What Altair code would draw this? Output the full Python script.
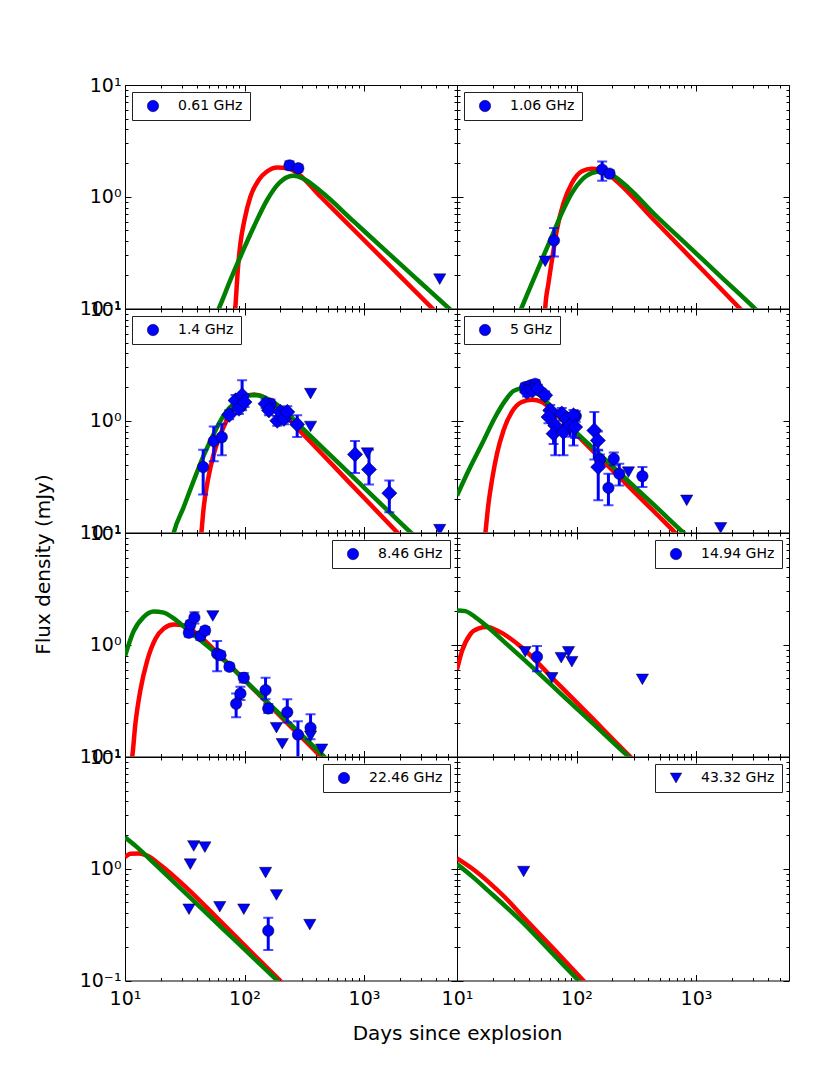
import altair as alt
import pandas as pd

# ---------------- axes / ticks ----------------
X_DOMAIN = [10, 6000]
Y_DOMAIN = [0.1, 10]
X_MAJOR = [10, 100, 1000]
X_MINOR = [20, 30, 40, 50, 60, 70, 80, 90, 200, 300, 400, 500, 600, 700, 800, 900,
           2000, 3000, 4000, 5000]
Y_MAJOR = [0.1, 1, 10]
Y_MINOR = [0.2, 0.3, 0.4, 0.5, 0.6, 0.7, 0.8, 0.9, 2, 3, 4, 5, 6, 7, 8, 9]

LABELS = ["0.61 GHz", "1.06 GHz", "1.4 GHz", "5 GHz",
          "8.46 GHz", "14.94 GHz", "22.46 GHz", "43.32 GHz"]

# ---------------- 0.61 GHz ----------------
C061_T = [238, 282]
C061_F = [1.91, 1.80]
C061_LO = [1.75, 1.68]
C061_HI = [2.08, 1.93]
U061_T = [4300]
U061_F = [0.183]
R061_T = [82, 85.7, 87.9, 92.5, 100, 112, 132, 155, 188, 228, 276, 434, 824, 1570, 3740, 4500]
R061_F = [0.07, 0.147, 0.222, 0.385, 0.622, 1.0, 1.42, 1.69, 1.83, 1.81, 1.63, 1.0, 0.504, 0.253, 0.1, 0.082]
G061_T = [57, 61, 76.4, 92.5, 120, 155, 194, 228, 259, 304, 434, 824, 1570, 2985, 5150, 6000]
G061_F = [0.085, 0.1, 0.181, 0.292, 0.542, 0.94, 1.32, 1.50, 1.54, 1.47, 1.12, 0.598, 0.318, 0.170, 0.1, 0.086]

# ---------------- 1.06 GHz ----------------
C106_T = [64.8, 164, 189]
C106_F = [0.406, 1.75, 1.61]
C106_LO = [0.292, 1.39, 1.50]
C106_HI = [0.524, 2.07, 1.73]
U106_T = [54.7]
U106_F = [0.264]
R106_T = [54, 54.7, 58.3, 63, 68.5, 77.8, 91.4, 111, 134, 163, 210, 454, 863, 2333, 2800]
R106_F = [0.074, 0.1, 0.169, 0.292, 0.506, 0.877, 1.32, 1.69, 1.78, 1.75, 1.42, 0.607, 0.299, 0.1, 0.082]
G106_T = [32.7, 34.5, 42.4, 51.3, 62.2, 75.3, 91.4, 111, 134, 163, 197, 272, 454, 863, 1637, 3112, 3600]
G106_F = [0.088, 0.1, 0.169, 0.273, 0.442, 0.714, 1.08, 1.42, 1.63, 1.69, 1.57, 1.20, 0.69, 0.362, 0.190, 0.1, 0.086]

# ---------------- 1.4 GHz ----------------
C14_T = [45.1, 55.3, 64.6, 165]
C14_F = [0.385, 0.658, 0.714, 1.42]
C14_LO = [0.219, 0.435, 0.49, 1.30]
C14_HI = [0.55, 0.889, 0.94, 1.55]
D14_T = [74.5, 84.1, 89.8, 95.5, 100, 150, 160, 188, 200, 214, 228, 276, 841, 1101, 1629]
D14_F = [1.13, 1.52, 1.28, 1.69, 1.47, 1.42, 1.24, 1.0, 1.20, 1.04, 1.20, 0.927, 0.50, 0.366, 0.225]
D14_LO = [1.03, 1.35, 1.15, 1.24, 1.33, 1.30, 1.12, 0.90, 1.08, 0.93, 0.98, 0.714, 0.34, 0.269, 0.152]
D14_HI = [1.24, 1.70, 1.42, 2.30, 1.62, 1.55, 1.37, 1.10, 1.32, 1.15, 1.35, 1.12, 0.658, 0.55, 0.292]
U14_T = [357, 357, 1067, 4300]
U14_F = [1.75, 0.889, 0.513, 0.106]
R14_T = [43, 43.6, 45.6, 49.3, 55.3, 65, 78.9, 98.6, 120, 145, 188, 314, 598, 1138, 1900, 2300]
R14_F = [0.085, 0.1, 0.169, 0.292, 0.506, 0.819, 1.24, 1.63, 1.72, 1.63, 1.32, 0.745, 0.363, 0.177, 0.1, 0.081]
G14_T = [24.8, 25.6, 31, 37.6, 45.6, 55.3, 67.1, 84.1, 105, 128, 155, 200, 314, 598, 1138, 2460, 3000]
G14_F = [0.087, 0.1, 0.169, 0.292, 0.49, 0.766, 1.12, 1.47, 1.69, 1.69, 1.57, 1.32, 0.832, 0.428, 0.221, 0.1, 0.082]

# ---------------- 5 GHz ----------------
C5_T = [37.2, 41, 45.2, 98.6, 157, 185, 205, 228, 356]
C5_F = [2.0, 2.07, 2.14, 1.10, 0.448, 0.251, 0.457, 0.335, 0.319]
C5_LO = [1.85, 1.92, 1.95, 0.98, 0.40, 0.175, 0.40, 0.264, 0.255]
C5_HI = [2.15, 2.22, 2.32, 1.22, 0.50, 0.335, 0.52, 0.412, 0.385]
D5_T = [38.5, 42.9, 47.5, 54.7, 60.3, 58.3, 66.4, 64.3, 75.3, 77.8, 83, 88.5, 94.4, 97.5, 141, 151, 152]
D5_F = [1.81, 1.87, 1.94, 1.69, 1.24, 1.08, 0.908, 0.766, 1.16, 0.792, 1.04, 0.908, 1.12, 0.877, 0.819, 0.667, 0.385]
D5_LO = [1.65, 1.72, 1.78, 1.55, 1.10, 0.95, 0.49, 0.62, 1.0, 0.49, 0.90, 0.72, 0.60, 0.70, 0.45, 0.55, 0.194]
D5_HI = [1.97, 2.03, 2.10, 1.83, 1.38, 1.22, 1.24, 0.90, 1.30, 1.05, 1.18, 1.10, 1.25, 1.05, 1.20, 0.80, 0.542]
U5_T = [272, 836, 1607]
U5_F = [0.347, 0.194, 0.110]
R5_T = [17, 17.3, 18.2, 19.6, 21.6, 24.5, 28.8, 34.9, 42.4, 51.3, 66.4, 126, 239, 454, 668, 800]
R5_F = [0.085, 0.1, 0.169, 0.292, 0.506, 0.819, 1.20, 1.47, 1.54, 1.47, 1.16, 0.587, 0.298, 0.151, 0.1, 0.083]
G5_T = [10, 12.5, 16.2, 20.9, 25.4, 29.8, 34.9, 41, 51.3, 66.4, 126, 239, 454, 783, 950]
G5_F = [0.214, 0.359, 0.622, 1.08, 1.52, 1.85, 1.94, 1.90, 1.63, 1.20, 0.62, 0.327, 0.173, 0.1, 0.083]

# ---------------- 8.46 GHz ----------------
C846_T = [34.2, 35.2, 38.1, 42.8, 46.8, 59.0, 63, 74.8, 98.6, 92.5, 85.1, 150, 158, 228, 280, 357]
C846_F = [1.28, 1.52, 1.75, 1.20, 1.34, 0.830, 0.807, 0.635, 0.506, 0.366, 0.296, 0.393, 0.269, 0.249, 0.157, 0.181]
C846_LO = [1.18, 1.40, 1.55, 1.10, 1.24, 0.58, 0.74, 0.59, 0.46, 0.32, 0.225, 0.326, 0.245, 0.201, 0.095, 0.143]
C846_HI = [1.38, 1.64, 1.95, 1.30, 1.44, 1.08, 0.87, 0.68, 0.56, 0.42, 0.366, 0.506, 0.295, 0.326, 0.207, 0.239]
U846_T = [54.3, 185, 207, 357, 442]
U846_F = [1.81, 0.181, 0.130, 0.152, 0.116]
R846_T = [11.2, 11.5, 12.2, 13.4, 15.3, 17.9, 21.1, 25.6, 31, 37.6, 63, 120, 228, 434, 520]
R846_F = [0.085, 0.1, 0.194, 0.385, 0.714, 1.12, 1.40, 1.52, 1.49, 1.32, 0.792, 0.397, 0.199, 0.1, 0.082]
G846_T = [10, 11.8, 14.3, 17.4, 21.1, 25.6, 33.1, 63, 120, 228, 462, 560]
G846_F = [0.792, 1.32, 1.77, 1.98, 1.94, 1.72, 1.37, 0.776, 0.40, 0.207, 0.1, 0.082]

# ---------------- 14.94 GHz ----------------
C1494_T = [46.7]
C1494_F = [0.782]
C1494_LO = [0.58]
C1494_HI = [0.973]
U1494_T = [37.2, 62.2, 74.5, 85.7, 91.4, 356]
U1494_F = [0.865, 0.506, 0.766, 0.865, 0.705, 0.49]
R1494_T = [10, 11, 12.9, 15.2, 17.8, 22.3, 34.9, 66.4, 126, 281, 340]
R1494_F = [0.60, 0.877, 1.24, 1.40, 1.44, 1.32, 0.946, 0.474, 0.238, 0.1, 0.082]
G1494_T = [10, 11.7, 14.2, 18.4, 25.4, 34.9, 66.4, 126, 272, 330]
G1494_F = [2.03, 2.0, 1.77, 1.42, 1.04, 0.766, 0.405, 0.215, 0.1, 0.083]

# ---------------- 22.46 GHz ----------------
C2246_T = [158]
C2246_F = [0.279]
C2246_LO = [0.187]
C2246_HI = [0.364]
U2246_T = [37.6, 46.6, 35.2, 34.3, 62.1, 98.6, 150, 185, 352]
U2246_F = [1.60, 1.56, 1.10, 0.434, 0.457, 0.434, 0.924, 0.583, 0.316]
R2246_T = [10, 11.1, 13, 15.3, 19.8, 33.1, 63, 120, 198, 240]
R2246_F = [1.27, 1.36, 1.37, 1.31, 1.08, 0.668, 0.338, 0.170, 0.1, 0.082]
G2246_T = [10, 12.6, 17.4, 33.1, 63, 120, 188, 225]
G2246_F = [1.91, 1.56, 1.13, 0.587, 0.304, 0.158, 0.1, 0.083]

# ---------------- 43.32 GHz ----------------
U4332_T = [36.1]
U4332_F = [0.944]
R4332_T = [10, 13.3, 18.4, 25.4, 34.9, 66.4, 114, 140]
R4332_F = [1.24, 1.01, 0.760, 0.55, 0.382, 0.185, 0.1, 0.079]
G4332_T = [10, 13.3, 18.4, 34.9, 66.4, 104, 125]
G4332_F = [1.10, 0.859, 0.631, 0.336, 0.164, 0.1, 0.082]

# ---------------- styling ----------------
W, H = 332, 223.5
BLUE = "#0000ff"
RED = "#ff0000"
GREEN = "#008000"
FONT = "DejaVu Sans"
MAJ, MIN = 6, 3

LOGV = "round(log(datum.value)/LN10)"
LABEL_EXPR = (f"{LOGV}==-1?'10\u207b\u00b9':{LOGV}==0?'10\u2070':{LOGV}==1?'10\u00b9':"
              f"{LOGV}==2?'10\u00b2':'10\u00b3'")


def xs():
    return alt.Scale(type="log", domain=X_DOMAIN, nice=False)


def ys():
    return alt.Scale(type="log", domain=Y_DOMAIN, nice=False)


def ax(orient, values, size, labels, pad, **kw):
    args = dict(orient=orient, values=values, tickSize=size, offset=-size, domain=False,
                grid=False, labels=labels, labelOverlap=False, labelFlush=False,
                labelFont=FONT, labelFontSize=19, labelColor="black", labelPadding=pad,
                tickColor="black", tickWidth=1, titleFont=FONT, titleFontSize=20,
                titleFontWeight="normal", titleColor="black")
    if labels:
        args["labelExpr"] = LABEL_EXPR
    args.update(kw)
    if "title" not in args:
        args["title"] = None
    return alt.Axis(**args)


def panel(label, lg_orient, lg_symbol, circ, diam, tri, red, grn,
          xlabels=False, ylabels=False, xtitle=None, ytitle=None):
    red_df = pd.DataFrame({"t": red[0], "f": red[1]})
    grn_df = pd.DataFrame({"t": grn[0], "f": grn[1]})

    xkw = {}
    if xtitle:
        xkw = dict(title=xtitle, titleX=W, titleY=65, titleAlign="center",
                   titleBaseline="alphabetic", titleAnchor="start")
    ykw = {}
    if ytitle:
        ykw = dict(title=ytitle, titleX=-88, titleY=31, titleAlign="center",
                   titleBaseline="middle", titleAngle=270, titleAnchor="start")

    layers = []
    layers.append(alt.Chart(red_df).mark_line(color=RED, strokeWidth=4.5, clip=True,
                                              interpolate="monotone").encode(
        x=alt.X("t:Q", scale=xs(), axis=ax("bottom", X_MAJOR, MAJ, xlabels, 9, **xkw)),
        y=alt.Y("f:Q", scale=ys(), axis=ax("left", Y_MAJOR, MAJ, ylabels, 4, **ykw))))
    layers.append(alt.Chart(grn_df).mark_line(color=GREEN, strokeWidth=4.5, clip=True,
                                              interpolate="monotone").encode(
        x=alt.X("t:Q", scale=xs(), axis=ax("top", X_MAJOR, MAJ, False, 4)),
        y=alt.Y("f:Q", scale=ys(), axis=ax("right", Y_MAJOR, MAJ, False, 4))))
    layers.append(alt.Chart(red_df).mark_line(strokeOpacity=0, clip=True).encode(
        x=alt.X("t:Q", scale=xs(), axis=ax("bottom", X_MINOR, MIN, False, 4)),
        y=alt.Y("f:Q", scale=ys(), axis=ax("left", Y_MINOR, MIN, False, 4))))
    layers.append(alt.Chart(grn_df).mark_line(strokeOpacity=0, clip=True).encode(
        x=alt.X("t:Q", scale=xs(), axis=ax("top", X_MINOR, MIN, False, 4)),
        y=alt.Y("f:Q", scale=ys(), axis=ax("right", Y_MINOR, MIN, False, 4))))

    # error bars for detections
    err_t, err_lo, err_hi = [], [], []
    for grp in (circ, diam):
        if grp:
            err_t += list(grp[0])
            err_lo += list(grp[2])
            err_hi += list(grp[3])
    if err_t:
        err_df = pd.DataFrame({"t": err_t, "lo": err_lo, "hi": err_hi})
        cap_df = pd.DataFrame({"t": err_t + err_t, "v": err_lo + err_hi})
        layers.append(alt.Chart(err_df).mark_rule(color=BLUE, strokeWidth=3, clip=True).encode(
            x=alt.X("t:Q", scale=xs(), axis=None),
            y=alt.Y("lo:Q", scale=ys(), axis=None),
            y2=alt.Y2("hi:Q")))
        layers.append(alt.Chart(cap_df).mark_tick(color=BLUE, orient="horizontal", size=10,
                                                  thickness=2, clip=True).encode(
            x=alt.X("t:Q", scale=xs(), axis=None),
            y=alt.Y("v:Q", scale=ys(), axis=None)))

    leg = alt.Legend(title=None, orient=lg_orient, offset=7, padding=7, strokeColor="#222222",
                     fillColor="white", cornerRadius=0, symbolType=lg_symbol, symbolSize=130,
                     symbolFillColor=BLUE, symbolStrokeColor="black", symbolStrokeWidth=0.5,
                     symbolOffset=7, labelOffset=18, labelFont=FONT, labelFontSize=14,
                     labelColor="black")
    cscale = alt.Scale(domain=[label], range=[BLUE])

    for grp, shape, size in ((circ, "circle", 130), (diam, "diamond", 230),
                             (tri, "triangle-down", 150)):
        if not grp:
            continue
        df = pd.DataFrame({"t": grp[0], "f": grp[1], "band": label})
        layers.append(alt.Chart(df).mark_point(shape=shape, filled=True, size=size, opacity=1,
                                               stroke="black", strokeWidth=0.5, clip=True).encode(
            x=alt.X("t:Q", scale=xs(), axis=None),
            y=alt.Y("f:Q", scale=ys(), axis=None),
            color=alt.Color("band:N", scale=cscale, legend=leg)))

    return alt.layer(*layers).resolve_axis(x="independent", y="independent").properties(
        width=W, height=H)


p1 = panel(LABELS[0], "top-left", "circle",
           (C061_T, C061_F, C061_LO, C061_HI), None, (U061_T, U061_F),
           (R061_T, R061_F), (G061_T, G061_F), ylabels=True)
p2 = panel(LABELS[1], "top-left", "circle",
           (C106_T, C106_F, C106_LO, C106_HI), None, (U106_T, U106_F),
           (R106_T, R106_F), (G106_T, G106_F))
p3 = panel(LABELS[2], "top-left", "circle",
           (C14_T, C14_F, C14_LO, C14_HI), (D14_T, D14_F, D14_LO, D14_HI), (U14_T, U14_F),
           (R14_T, R14_F), (G14_T, G14_F), ylabels=True)
p4 = panel(LABELS[3], "top-left", "circle",
           (C5_T, C5_F, C5_LO, C5_HI), (D5_T, D5_F, D5_LO, D5_HI), (U5_T, U5_F),
           (R5_T, R5_F), (G5_T, G5_F))
p5 = panel(LABELS[4], "top-right", "circle",
           (C846_T, C846_F, C846_LO, C846_HI), None, (U846_T, U846_F),
           (R846_T, R846_F), (G846_T, G846_F), ylabels=True, ytitle="Flux density (mJy)")
p6 = panel(LABELS[5], "top-right", "circle",
           (C1494_T, C1494_F, C1494_LO, C1494_HI), None, (U1494_T, U1494_F),
           (R1494_T, R1494_F), (G1494_T, G1494_F))
p7 = panel(LABELS[6], "top-right", "circle",
           (C2246_T, C2246_F, C2246_LO, C2246_HI), None, (U2246_T, U2246_F),
           (R2246_T, R2246_F), (G2246_T, G2246_F), xlabels=True, ylabels=True,
           xtitle="Days since explosion")
p8 = panel(LABELS[7], "top-right", "triangle-down",
           None, None, (U4332_T, U4332_F),
           (R4332_T, R4332_F), (G4332_T, G4332_F), xlabels=True)

chart = alt.concat(p1, p2, p3, p4, p5, p6, p7, p8, columns=2, spacing=0, bounds="flush").resolve_scale(
    color="independent").resolve_legend(color="independent").properties(
    padding={"left": 24, "top": 67, "right": 10, "bottom": 10},
    background="white",
).configure_view(stroke="black", strokeWidth=1)

chart.save("out.html", embed_options={"renderer": "svg", "actions": False})
